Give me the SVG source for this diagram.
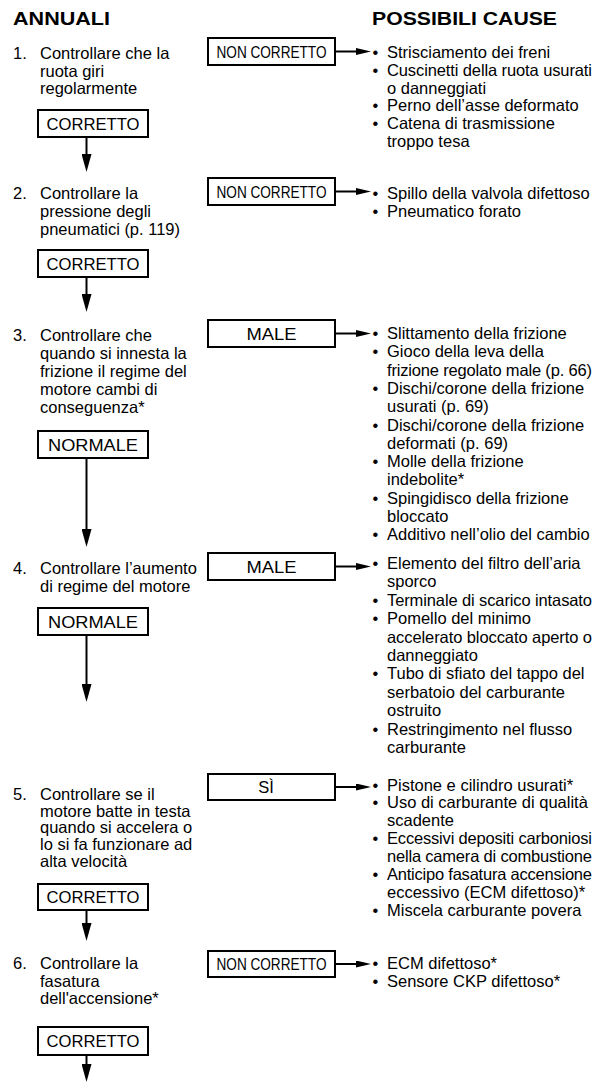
<svg xmlns="http://www.w3.org/2000/svg" width="595" height="1092" viewBox="0 0 595 1092">
<style>
text{font-family:"Liberation Sans",Arial,Helvetica,sans-serif;fill:#000}
.t{font-size:16.5px}
.h{font-size:19px;font-weight:bold}
.lb{font-size:16.5px;text-anchor:middle}
.box{fill:#fff;stroke:#000;stroke-width:2}
.c{stroke:#000;stroke-width:2;fill:none}
.dn{marker-end:url(#ad)}
.rt{marker-end:url(#ar)}
</style>
<defs>
<marker id="ad" viewBox="0 0 18 10" refX="8" refY="5" markerWidth="18" markerHeight="10" markerUnits="userSpaceOnUse" orient="auto"><path d="M0,0 L18,5 L0,10 z" fill="#000"/></marker>
<marker id="ar" viewBox="0 0 15 7" refX="5" refY="3.5" markerWidth="15" markerHeight="7" markerUnits="userSpaceOnUse" orient="auto"><path d="M0,0 L15,3.5 L0,7 z" fill="#000"/></marker>
</defs>
<rect width="595" height="1092" fill="#fff"/>
<g id="headers">
<text class="h" x="13" y="25" textLength="97" lengthAdjust="spacingAndGlyphs">ANNUALI</text>
<text class="h" x="372" y="25" textLength="185" lengthAdjust="spacingAndGlyphs">POSSIBILI CAUSE</text>
</g>
<g id="connectors">
<line class="c dn" x1="86.5" y1="137" x2="86.5" y2="162"/>
<line class="c dn" x1="86.5" y1="277" x2="86.5" y2="302"/>
<line class="c dn" x1="86.5" y1="458" x2="86.5" y2="537"/>
<line class="c dn" x1="86.5" y1="635" x2="86.5" y2="692"/>
<line class="c dn" x1="86.5" y1="910" x2="86.5" y2="931"/>
<line class="c dn" x1="86.5" y1="1055" x2="86.5" y2="1072"/>
<line class="c rt" x1="335" y1="51.5" x2="361" y2="51.5"/>
<line class="c rt" x1="335" y1="191.5" x2="361" y2="191.5"/>
<line class="c rt" x1="335" y1="333.5" x2="361" y2="333.5"/>
<line class="c rt" x1="335" y1="566.5" x2="361" y2="566.5"/>
<line class="c rt" x1="335" y1="787" x2="361" y2="787"/>
<line class="c rt" x1="335" y1="964" x2="361" y2="964"/>
</g>
<g id="step1" class="t">
<text x="13" y="59">1.</text>
<text x="40" y="59">Controllare che la</text>
<text x="40" y="76.5">ruota giri</text>
<text x="40" y="94">regolarmente</text>
</g>
<g id="ok1"><rect class="box" x="38" y="110" width="110" height="27"/><text class="lb" x="93" y="129.5" textLength="93" lengthAdjust="spacingAndGlyphs">CORRETTO</text></g>
<g id="ng1"><rect class="box" x="208" y="38" width="127" height="27"/><text class="lb" x="271.5" y="58" textLength="110" lengthAdjust="spacingAndGlyphs">NON CORRETTO</text></g>
<g id="causes1" class="t">
<text x="372.5" y="58">•</text><text x="387" y="58">Strisciamento dei freni</text>
<text x="372.5" y="75.8">•</text><text x="387" y="75.8" textLength="205" lengthAdjust="spacing">Cuscinetti della ruota usurati</text>
<text x="387" y="93.6">o danneggiati</text>
<text x="372.5" y="111.4">•</text><text x="387" y="111.4">Perno dell’asse deformato</text>
<text x="372.5" y="129.2">•</text><text x="387" y="129.2">Catena di trasmissione</text>
<text x="387" y="147">troppo tesa</text>
</g>
<g id="step2" class="t">
<text x="13" y="199">2.</text>
<text x="40" y="199">Controllare la</text>
<text x="40" y="217">pressione degli</text>
<text x="40" y="235">pneumatici (p. 119)</text>
</g>
<g id="ok2"><rect class="box" x="38" y="250" width="110" height="27"/><text class="lb" x="93" y="269.5" textLength="93" lengthAdjust="spacingAndGlyphs">CORRETTO</text></g>
<g id="ng2"><rect class="box" x="208" y="178" width="127" height="27"/><text class="lb" x="271.5" y="197.5" textLength="110" lengthAdjust="spacingAndGlyphs">NON CORRETTO</text></g>
<g id="causes2" class="t">
<text x="372.5" y="198.5">•</text><text x="387" y="198.5">Spillo della valvola difettoso</text>
<text x="372.5" y="216.5">•</text><text x="387" y="216.5">Pneumatico forato</text>
</g>
<g id="step3" class="t">
<text x="13" y="340.5">3.</text>
<text x="40" y="340.5">Controllare che</text>
<text x="40" y="358.5">quando si innesta la</text>
<text x="40" y="376.5">frizione il regime del</text>
<text x="40" y="394.5">motore cambi di</text>
<text x="40" y="412.5">conseguenza*</text>
</g>
<g id="ok3"><rect class="box" x="38" y="431" width="110" height="27"/><text class="lb" x="93" y="450.5" textLength="90" lengthAdjust="spacingAndGlyphs">NORMALE</text></g>
<g id="ng3"><rect class="box" x="208" y="320" width="127" height="27"/><text class="lb" x="271.5" y="339.5" textLength="50" lengthAdjust="spacingAndGlyphs">MALE</text></g>
<g id="causes3" class="t">
<text x="372.5" y="339">•</text><text x="387" y="339">Slittamento della frizione</text>
<text x="372.5" y="357.3">•</text><text x="387" y="357.3">Gioco della leva della</text>
<text x="387" y="375.6" textLength="205" lengthAdjust="spacing">frizione regolato male (p. 66)</text>
<text x="372.5" y="393.9">•</text><text x="387" y="393.9">Dischi/corone della frizione</text>
<text x="387" y="412.2">usurati (p. 69)</text>
<text x="372.5" y="430.5">•</text><text x="387" y="430.5">Dischi/corone della frizione</text>
<text x="387" y="448.8">deformati (p. 69)</text>
<text x="372.5" y="467.1">•</text><text x="387" y="467.1">Molle della frizione</text>
<text x="387" y="485.4">indebolite*</text>
<text x="372.5" y="503.7">•</text><text x="387" y="503.7">Spingidisco della frizione</text>
<text x="387" y="522">bloccato</text>
<text x="372.5" y="540.3">•</text><text x="387" y="540.3">Additivo nell’olio del cambio</text>
</g>
<g id="step4" class="t">
<text x="13" y="574">4.</text>
<text x="40" y="574">Controllare l’aumento</text>
<text x="40" y="592">di regime del motore</text>
</g>
<g id="ok4"><rect class="box" x="38" y="608" width="110" height="27"/><text class="lb" x="93" y="627.5" textLength="90" lengthAdjust="spacingAndGlyphs">NORMALE</text></g>
<g id="ng4"><rect class="box" x="208" y="553" width="127" height="27"/><text class="lb" x="271.5" y="573" textLength="50" lengthAdjust="spacingAndGlyphs">MALE</text></g>
<g id="causes4" class="t">
<text x="372.5" y="569">•</text><text x="387" y="569">Elemento del filtro dell’aria</text>
<text x="387" y="587.4">sporco</text>
<text x="372.5" y="605.8">•</text><text x="387" y="605.8" textLength="205" lengthAdjust="spacing">Terminale di scarico intasato</text>
<text x="372.5" y="624.2">•</text><text x="387" y="624.2">Pomello del minimo</text>
<text x="387" y="642.6" textLength="205" lengthAdjust="spacing">accelerato bloccato aperto o</text>
<text x="387" y="661">danneggiato</text>
<text x="372.5" y="679.4">•</text><text x="387" y="679.4">Tubo di sfiato del tappo del</text>
<text x="387" y="697.8">serbatoio del carburante</text>
<text x="387" y="716.2">ostruito</text>
<text x="372.5" y="734.6">•</text><text x="387" y="734.6">Restringimento nel flusso</text>
<text x="387" y="753">carburante</text>
</g>
<g id="step5" class="t">
<text x="13" y="800">5.</text>
<text x="40" y="800">Controllare se il</text>
<text x="40" y="816.7">motore batte in testa</text>
<text x="40" y="833.4">quando si accelera o</text>
<text x="40" y="850">lo si fa funzionare ad</text>
<text x="40" y="866.7">alta velocità</text>
</g>
<g id="ok5"><rect class="box" x="38" y="884" width="110" height="26"/><text class="lb" x="93" y="903" textLength="93" lengthAdjust="spacingAndGlyphs">CORRETTO</text></g>
<g id="ng5"><rect class="box" x="208" y="774" width="127" height="26"/><text class="lb" x="266" y="793">SÌ</text></g>
<g id="causes5" class="t">
<text x="372.5" y="790.5">•</text><text x="387" y="790.5">Pistone e cilindro usurati*</text>
<text x="372.5" y="808.4">•</text><text x="387" y="808.4">Uso di carburante di qualità</text>
<text x="387" y="826.3">scadente</text>
<text x="372.5" y="844.2">•</text><text x="387" y="844.2" textLength="205" lengthAdjust="spacing">Eccessivi depositi carboniosi</text>
<text x="387" y="862.1" textLength="205" lengthAdjust="spacing">nella camera di combustione</text>
<text x="372.5" y="880">•</text><text x="387" y="880" textLength="205" lengthAdjust="spacing">Anticipo fasatura accensione</text>
<text x="387" y="897.9">eccessivo (ECM difettoso)*</text>
<text x="372.5" y="915.8">•</text><text x="387" y="915.8">Miscela carburante povera</text>
</g>
<g id="step6" class="t">
<text x="13" y="969">6.</text>
<text x="40" y="969">Controllare la</text>
<text x="40" y="986.5">fasatura</text>
<text x="40" y="1004">dell'accensione*</text>
</g>
<g id="ok6"><rect class="box" x="38" y="1027" width="110" height="28"/><text class="lb" x="93" y="1047" textLength="93" lengthAdjust="spacingAndGlyphs">CORRETTO</text></g>
<g id="ng6"><rect class="box" x="208" y="951" width="127" height="26"/><text class="lb" x="271.5" y="970" textLength="110" lengthAdjust="spacingAndGlyphs">NON CORRETTO</text></g>
<g id="causes6" class="t">
<text x="372.5" y="969">•</text><text x="387" y="969">ECM difettoso*</text>
<text x="372.5" y="987">•</text><text x="387" y="987">Sensore CKP difettoso*</text>
</g>
</svg>
